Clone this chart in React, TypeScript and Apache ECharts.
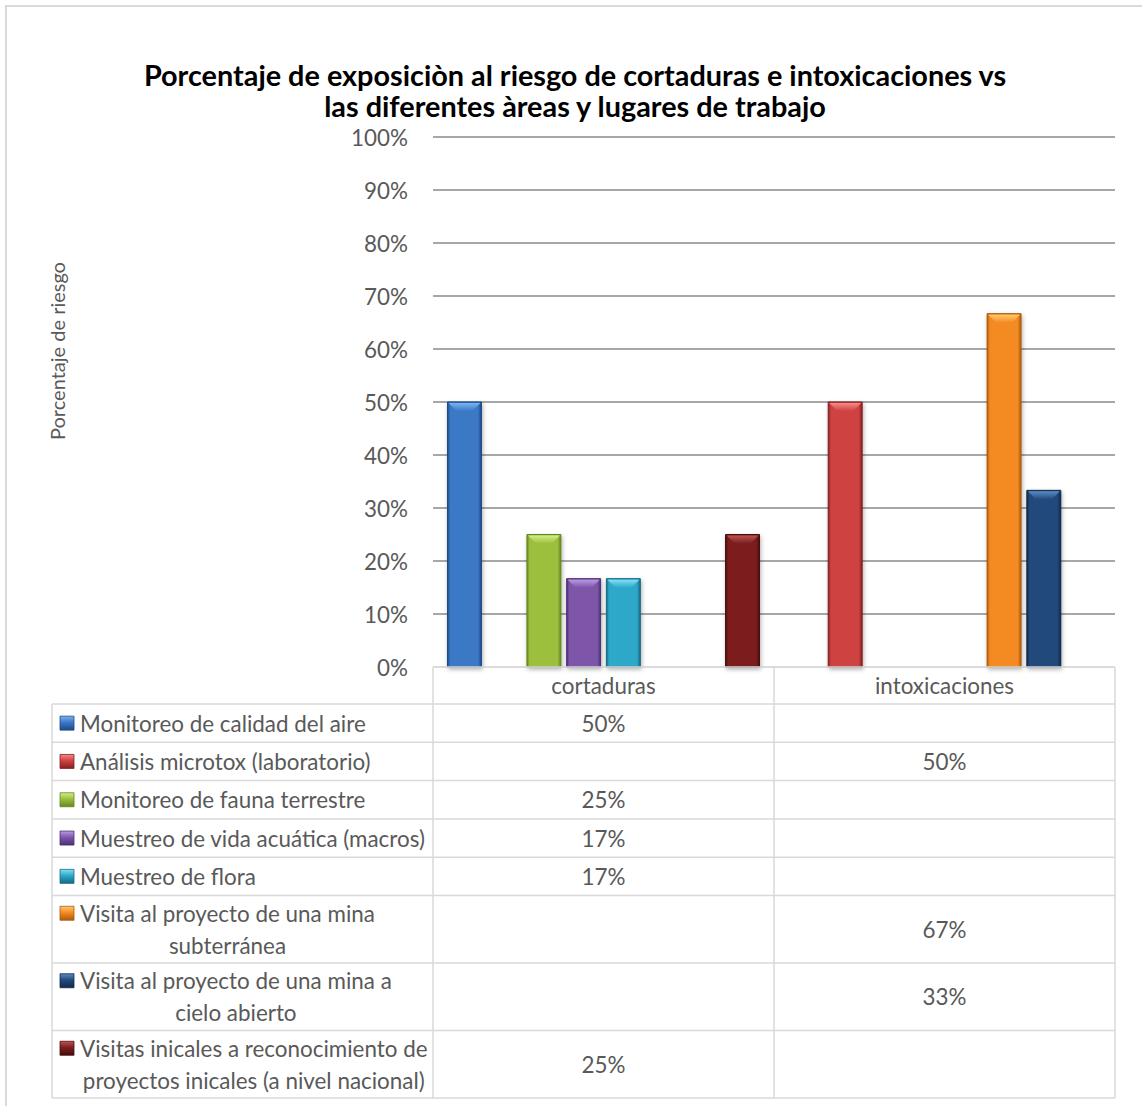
import React, { useEffect, useRef } from "react";
import * as echarts from "echarts";

// ---------- DATA ----------
const categories = ["cortaduras", "intoxicaciones"];

const seriesNames = [
  "Monitoreo de calidad del aire",
  "Análisis microtox (laboratorio)",
  "Monitoreo de fauna terrestre",
  "Muestreo de vida acuática (macros)",
  "Muestreo de flora",
  "Visita al proyecto de una mina subterránea",
  "Visita al proyecto de una mina a cielo abierto",
  "Visitas inicales a reconocimiento de proyectos inicales (a nivel nacional)",
];

// how the series names wrap inside the data table
const seriesLabelLines = [
  ["Monitoreo de calidad del aire"],
  ["Análisis microtox (laboratorio)"],
  ["Monitoreo de fauna terrestre"],
  ["Muestreo de vida acuática (macros)"],
  ["Muestreo de flora"],
  ["Visita al proyecto de una mina", "subterránea"],
  ["Visita al proyecto de una mina a", "cielo abierto"],
  ["Visitas inicales a reconocimiento de", "proyectos inicales (a nivel nacional)"],
];

const aire = [0.5, null];
const microtox = [null, 0.5];
const fauna = [0.25, null];
const vidaAcuatica = [0.1667, null];
const flora = [0.1667, null];
const minaSubterranea = [null, 0.6667];
const minaCieloAbierto = [null, 0.3333];
const visitasIniciales = [0.25, null];

const seriesValues = [
  aire,
  microtox,
  fauna,
  vidaAcuatica,
  flora,
  minaSubterranea,
  minaCieloAbierto,
  visitasIniciales,
];

const titleLines = [
  "Porcentaje de exposiciòn al riesgo de cortaduras e intoxicaciones vs",
  "las diferentes àreas y lugares de trabajo",
];
const yAxisTitle = "Porcentaje de riesgo";
const yMin = 0;
const yMax = 1;
const yInterval = 0.1;

// ---------- STYLE ----------
const palette = [
  { base: "#3b78c6", light: "#7ab3f3", dark: "#1d4a86" },
  { base: "#cf4242", light: "#f58a8a", dark: "#842020" },
  { base: "#9cbf3e", light: "#d3ee8a", dark: "#66861f" },
  { base: "#7d57aa", light: "#ba9ae4", dark: "#4d3073" },
  { base: "#2fa8c9", light: "#84e0f6", dark: "#166983" },
  { base: "#f38b24", light: "#ffc970", dark: "#ad5a0c" },
  { base: "#24497c", light: "#5a8bc8", dark: "#12284a" },
  { base: "#7b1f1f", light: "#bd5252", dark: "#460d0d" },
];

const FONT = "Lato";
const TEXT = "#595959";
const BORDER = "#d9d9d9";
const W = 1142;
const H = 1106;
const GL = 433;
const GR = 1115;
const GT = 137;
const GB = 667;
const TABLE_LEFT = 52;
const HEADER_BOTTOM = 704;
const ROW1 = 38.3;
const ROW2 = 67.5;
const CAT_GAP = 0.085;
const BAR_GAP = 0.17;

function measure(text: string, font: string) {
  const c = document.createElement("canvas");
  const ctx = c.getContext("2d")!;
  ctx.font = font;
  return ctx.measureText(text).width;
}

export default function App() {
  const ref = useRef<HTMLDivElement>(null);

  useEffect(() => {
    if (!ref.current) return;
    const chart = echarts.init(ref.current, undefined, { renderer: "svg" });

    const fs = (24 * 286) / measure("Monitoreo de calidad del aire", `24px ${FONT}`);
    const yfs = (22 * 178) / measure(yAxisTitle, `22px ${FONT}`);
    const tfs = (0.97 * 28 * 890) / measure(titleLines[0], `bold 28px ${FONT}`);

    const n = seriesNames.length;
    const band = (GR - GL) / categories.length;

    const renderBar = (params: any, api: any) => {
      const idx = params.seriesIndex;
      const cat = api.value(0);
      const v = api.value(1);
      const base = api.coord([cat, 0]);
      const top = api.coord([cat, v]);
      const bandW = api.size([1, 0])[0];
      const catGap = bandW * CAT_GAP;
      const bw = (bandW - catGap) / (n + (n - 1) * BAR_GAP);
      const x = base[0] - bandW / 2 + catGap / 2 + idx * bw * (1 + BAR_GAP);
      const h = base[1] - top[1];
      const c = palette[idx];
      const bev = Math.min(9, h / 2);
      return {
        type: "group",
        children: [
          {
            type: "rect",
            shape: { x, y: top[1], width: bw, height: h },
            style: {
              fill: {
                type: "linear",
                x: 0,
                y: 0,
                x2: 1,
                y2: 0,
                colorStops: [
                  { offset: 0, color: c.dark },
                  { offset: 0.08, color: c.base },
                  { offset: 0.5, color: c.base },
                  { offset: 0.9, color: c.base },
                  { offset: 1, color: c.dark },
                ],
              },
              stroke: c.dark,
              lineWidth: 1,
              shadowBlur: 4,
              shadowOffsetX: 1,
              shadowOffsetY: 2,
              shadowColor: "rgba(0,0,0,0.3)",
            },
          },
          {
            type: "polygon",
            shape: {
              points: [
                [x + 1, top[1] + 1],
                [x + bw - 1, top[1] + 1],
                [x + bw - bev, top[1] + bev],
                [x + bev, top[1] + bev],
              ],
            },
            style: {
              fill: {
                type: "linear",
                x: 0,
                y: 0,
                x2: 0,
                y2: 1,
                colorStops: [
                  { offset: 0, color: c.light },
                  { offset: 1, color: c.base },
                ],
              },
            },
          },
        ],
      };
    };

    const series = seriesNames.map((name, i) => ({
      type: "custom",
      name,
      renderItem: renderBar,
      encode: { x: 0, y: 1 },
      data: seriesValues[i]
        .map((v, j) => (v == null ? null : [j, v]))
        .filter((d) => d !== null),
      z: 3,
    }));

    const graphics: any[] = [];
    // chart outer border
    graphics.push({
      type: "rect",
      shape: { x: 6, y: 6, width: 1200, height: 1200 },
      style: { fill: "none", stroke: BORDER, lineWidth: 2 },
      silent: true,
      z: 0,
    });
    // title (two lines)
    const titleY = [75, 106];
    titleLines.forEach((t, k) => {
      graphics.push({
        type: "text",
        x: 575,
        y: titleY[k],
        style: {
          text: t,
          fill: "#000000",
          font: `bold ${tfs}px ${FONT}`,
          align: "center",
          verticalAlign: "middle",
        },
        z: 6,
      });
    });
    // y axis title
    graphics.push({
      type: "text",
      x: 57,
      y: 351,
      rotation: Math.PI / 2,
      style: {
        text: yAxisTitle,
        fill: TEXT,
        font: `${yfs}px ${FONT}`,
        align: "center",
        verticalAlign: "middle",
      },
    });

    const line = (x1: number, y1: number, x2: number, y2: number) => ({
      type: "line",
      shape: { x1, y1, x2, y2 },
      style: { stroke: BORDER, lineWidth: 1.5 },
      z: 5,
      silent: true,
    });

    // ---------- data table ----------
    graphics.push(line(GL, GB, GR, GB));
    categories.forEach((cat, j) => {
      graphics.push({
        type: "text",
        x: GL + band * (j + 0.5),
        y: (GB + HEADER_BOTTOM) / 2,
        style: {
          text: cat,
          fill: TEXT,
          font: `${fs}px ${FONT}`,
          align: "center",
          verticalAlign: "middle",
        },
        z: 6,
      });
    });

    let y = HEADER_BOTTOM;
    graphics.push(line(TABLE_LEFT, y, GR, y));
    seriesLabelLines.forEach((lines, i) => {
      const rh = lines.length === 1 ? ROW1 : ROW2;
      const cy = y + rh / 2;
      const lh = 32;
      const firstY = cy - ((lines.length - 1) * lh) / 2;
      // legend key
      const c = palette[i];
      graphics.push({
        type: "rect",
        shape: { x: 60, y: firstY - 7, width: 14, height: 14 },
        style: {
          fill: {
            type: "linear",
            x: 0,
            y: 0,
            x2: 0,
            y2: 1,
            colorStops: [
              { offset: 0, color: c.light },
              { offset: 0.45, color: c.base },
              { offset: 1, color: c.dark },
            ],
          },
          stroke: c.dark,
          lineWidth: 0.8,
        },
        z: 6,
      });
      // label
      const widths = lines.map((l) => measure(l, `${fs}px ${FONT}`));
      const maxW = Math.max(...widths);
      graphics.push({
        type: "text",
        x: lines.length === 1 ? 80 : 80 + maxW / 2,
        y: cy,
        style: {
          text: lines.join("\n"),
          fill: TEXT,
          font: `${fs}px ${FONT}`,
          lineHeight: lh,
          align: lines.length === 1 ? "left" : "center",
          verticalAlign: "middle",
        },
        z: 6,
      });
      // values
      seriesValues[i].forEach((v, j) => {
        if (v == null) return;
        graphics.push({
          type: "text",
          x: GL + band * (j + 0.5),
          y: cy,
          style: {
            text: Math.round(v * 100) + "%",
            fill: TEXT,
            font: `${fs}px ${FONT}`,
            align: "center",
            verticalAlign: "middle",
          },
          z: 6,
        });
      });
      y += rh;
      graphics.push(line(TABLE_LEFT, y, GR, y));
    });
    // verticals
    graphics.push(line(TABLE_LEFT, HEADER_BOTTOM, TABLE_LEFT, y));
    graphics.push(line(GL, GB, GL, y));
    for (let j = 1; j <= categories.length; j++) {
      graphics.push(line(GL + band * j, GB, GL + band * j, y));
    }

    const nLines = Math.round((yMax - yMin) / yInterval) + 1;
    const splitColors = Array.from({ length: nLines }, (_, k) => (k === 0 ? BORDER : "#8a8a8a"));

    chart.setOption({
      animation: false,
      backgroundColor: "#ffffff",
      grid: {
        left: GL,
        right: W - GR,
        top: GT,
        bottom: H - GB,
        containLabel: false,
      },
      xAxis: {
        type: "category",
        data: categories,
        axisLine: { show: false },
        axisTick: { show: false },
        axisLabel: { show: false },
        splitLine: { show: false },
      },
      yAxis: {
        type: "value",
        min: yMin,
        max: yMax,
        interval: yInterval,
        axisLine: { show: false },
        axisTick: { show: false },
        axisLabel: {
          formatter: (v: number) => Math.round(v * 100) + "%",
          color: TEXT,
          fontFamily: FONT,
          fontSize: fs,
          lineHeight: 16,
          margin: 25,
        },
        splitLine: { lineStyle: { color: splitColors, width: 1.5 } },
      },
      series,
      graphic: graphics,
    });

    return () => chart.dispose();
  }, []);

  return (
    <div
      ref={ref}
      style={{ position: "absolute", left: 0, top: 0, width: W, height: H, background: "#fff" }}
    />
  );
}
